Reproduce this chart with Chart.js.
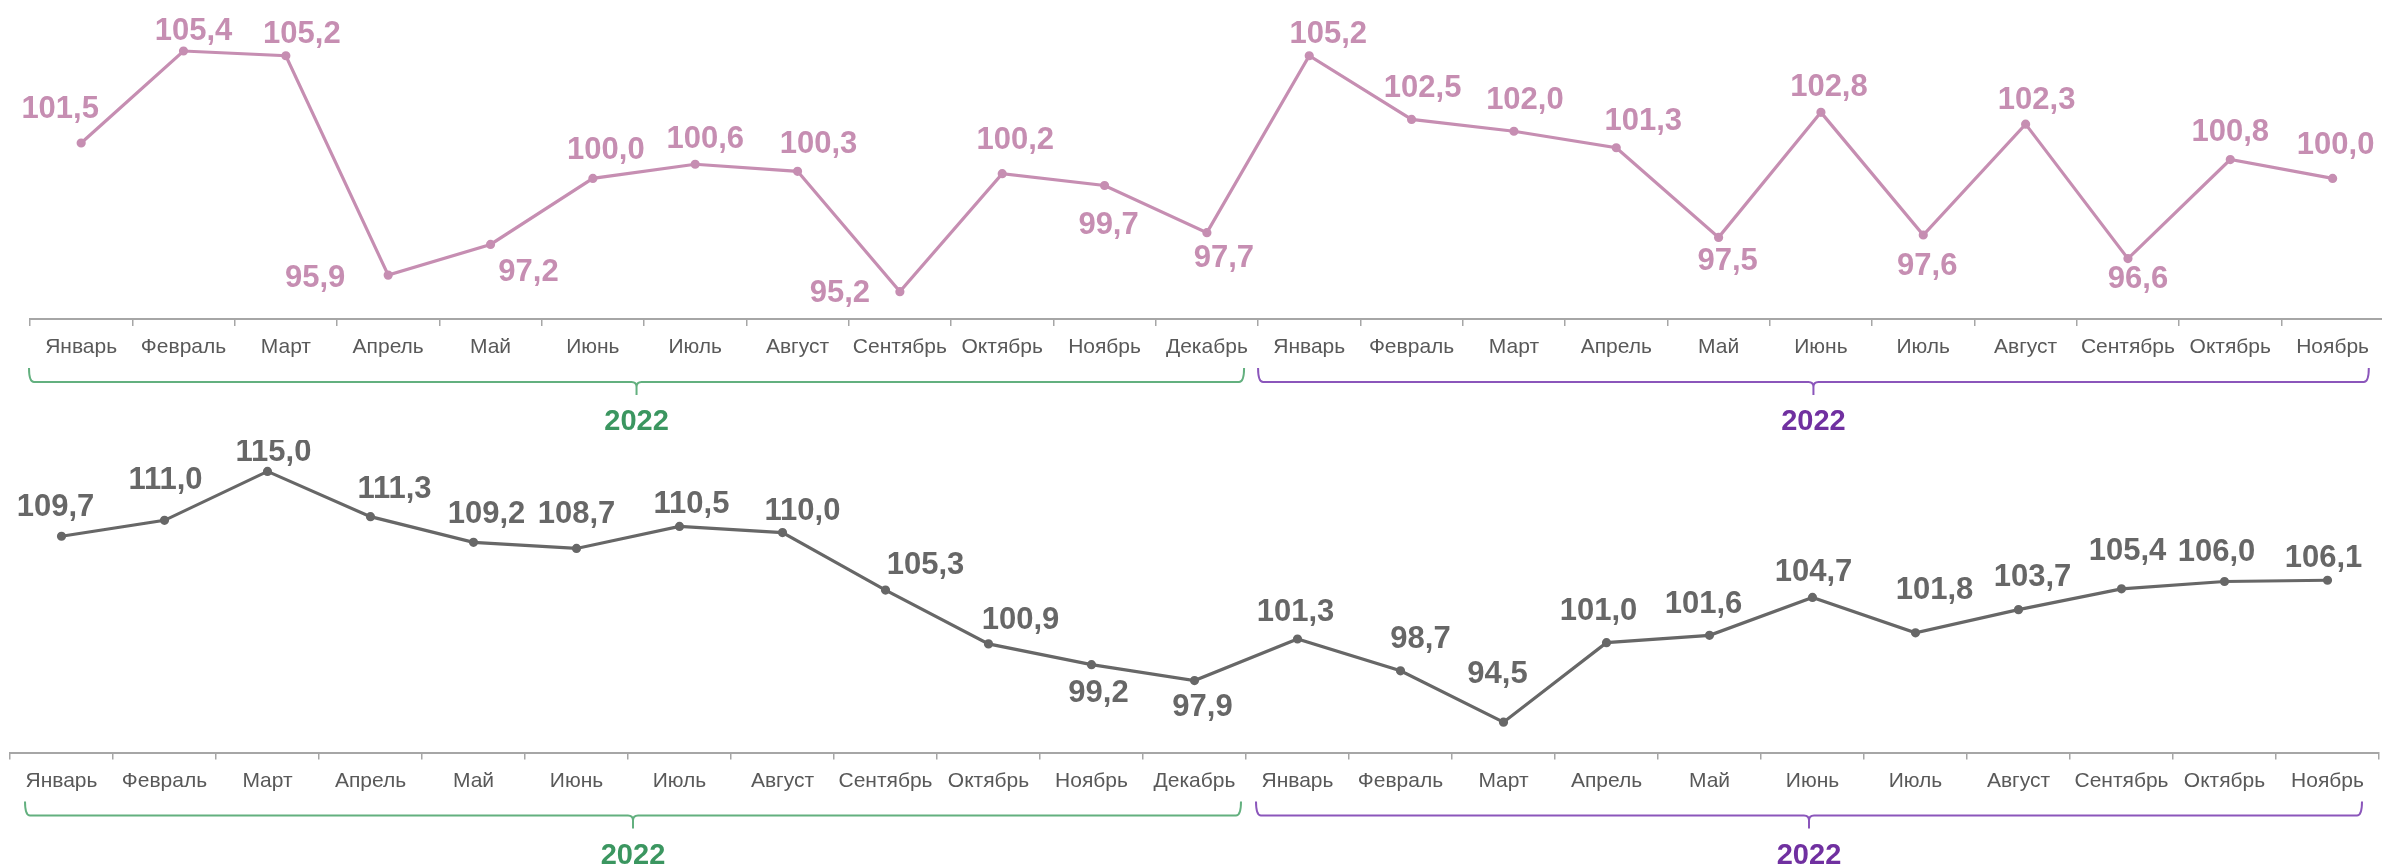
<!DOCTYPE html>
<html lang="ru">
<head>
<meta charset="utf-8">
<title>Индексы</title>
<script src="https://cdn.jsdelivr.net/npm/chart.js@4.4.1/dist/chart.umd.min.js"></script>
<style>
  html, body { margin: 0; padding: 0; background: #fff; overflow: hidden; }
  #wrap { position: relative; width: 2382px; height: 865px; overflow: hidden; }
  #topChart { position: absolute; left: 0; top: 0; }
  #bottomChart { position: absolute; left: 0; top: 440px; }
</style>
</head>
<body>
<div id="wrap">
  <canvas id="topChart" width="2390" height="440" style="width:2390px;height:440px"></canvas>
  <canvas id="bottomChart" width="2390" height="425" style="width:2390px;height:425px"></canvas>
</div>
<script>
// --- данные ---
const monthLabels = [
  'Январь', 'Февраль', 'Март', 'Апрель', 'Май', 'Июнь', 'Июль', 'Август',
  'Сентябрь', 'Октябрь', 'Ноябрь', 'Декабрь',
  'Январь', 'Февраль', 'Март', 'Апрель', 'Май', 'Июнь', 'Июль', 'Август',
  'Сентябрь', 'Октябрь', 'Ноябрь'
];
const yearLabels = ['2022', '2022'];
const yearSpans = [12, 11];   // сколько месяцев под каждой скобкой

const topValues = [101.5, 105.4, 105.2, 95.9, 97.2, 100.0, 100.6, 100.3, 95.2, 100.2, 99.7, 97.7,
                   105.2, 102.5, 102.0, 101.3, 97.5, 102.8, 97.6, 102.3, 96.6, 100.8, 100.0];
const bottomValues = [109.7, 111.0, 115.0, 111.3, 109.2, 108.7, 110.5, 110.0, 105.3, 100.9, 99.2, 97.9,
                      101.3, 98.7, 94.5, 101.0, 101.6, 104.7, 101.8, 103.7, 105.4, 106.0, 106.1];

// смещения подписей относительно точки (dx, dy)
const topLabelShift = [
  [-21, -34], [10, -20], [16, -21], [-73, 3], [38, 28], [13, -28], [10, -25], [21, -27],
  [-60, 2], [13, -33], [4, 40], [17, 26], [19, -21], [11, -31], [11, -31], [27, -26],
  [9, 24], [8, -25], [4, 31], [11, -24], [10, 21], [0, -27], [3, -33]
];
const bottomLabelShift = [
  [-6, -29], [1, -40], [6, -19], [24, -27], [13, -28], [0, -34], [12, -22], [20, -21],
  [40, -25], [32, -23], [7, 29], [8, 27], [-2, -27], [20, -31], [-6, -48], [-8, -31],
  [-6, -31], [1, -25], [19, -42], [14, -32], [6, -37], [-8, -29], [-4, -22]
];

const FONT = "'Liberation Sans', Arial, sans-serif";
const yearColors = [
  { line: '#63b07f', text: '#3b9660' },
  { line: '#8b56bb', text: '#7030a0' }
];

function fmt(v) {
  return v.toFixed(1).replace('.', ',');
}

// подписи значений
const valueLabels = {
  id: 'valueLabels',
  afterDatasetsDraw(chart, args, opts) {
    const ctx = chart.ctx;
    const meta = chart.getDatasetMeta(0);
    const data = chart.data.datasets[0].data;
    ctx.save();
    ctx.font = 'bold 31px ' + FONT;
    ctx.fillStyle = opts.color;
    ctx.textAlign = 'center';
    ctx.textBaseline = 'middle';
    meta.data.forEach((pt, i) => {
      const s = opts.shift[i];
      ctx.fillText(fmt(data[i]), pt.x + s[0], pt.y + s[1]);
    });
    ctx.restore();
  }
};

// фигурные скобки с годами
const yearBrackets = {
  id: 'yearBrackets',
  afterDraw(chart, args, opts) {
    const ctx = chart.ctx;
    const x = chart.scales.x;
    const n = chart.data.labels.length;
    const w = (x.right - x.left) / n;
    const base = chart.chartArea.bottom;
    const yTop = base + 49, yH = base + 63, yNotch = base + 76, yText = base + 103;
    const r = 5;
    let start = 0;
    ctx.save();
    yearSpans.forEach((span, g) => {
      const xl = x.left + start * w + opts.insets[g][0];
      const xr = x.left + (start + span) * w - opts.insets[g][1];
      const xc = (xl + xr) / 2;
      ctx.strokeStyle = yearColors[g].line;
      ctx.lineWidth = 2;
      ctx.beginPath();
      ctx.moveTo(xl, yTop);
      ctx.quadraticCurveTo(xl, yH, xl + r, yH);
      ctx.lineTo(xc - r, yH);
      ctx.quadraticCurveTo(xc, yH, xc, yH + r);
      ctx.lineTo(xc, yNotch);
      ctx.moveTo(xc, yH + r);
      ctx.quadraticCurveTo(xc, yH, xc + r, yH);
      ctx.lineTo(xr - r, yH);
      ctx.quadraticCurveTo(xr, yH, xr, yTop);
      ctx.stroke();

      ctx.fillStyle = yearColors[g].text;
      ctx.font = 'bold 29px ' + FONT;
      ctx.textAlign = 'center';
      ctx.textBaseline = 'middle';
      ctx.fillText(yearLabels[g], xc, yText);
      start += span;
    });
    ctx.restore();
  }
};

function makeChart(id, values, color, yMin, yMax, axisHeight, padLeft, padRight, shift, insets) {
  return new Chart(document.getElementById(id), {
    type: 'line',
    data: {
      labels: monthLabels,
      datasets: [{
        data: values,
        borderColor: color,
        backgroundColor: color,
        borderWidth: 3.2,
        pointRadius: 3,
        pointHoverRadius: 3,
        tension: 0,
        clip: false
      }]
    },
    options: {
      responsive: false,
      animation: false,
      events: [],
      layout: { padding: { left: padLeft, right: padRight, top: 0, bottom: 0 } },
      plugins: {
        legend: { display: false },
        tooltip: { enabled: false },
        valueLabels: { color: color, shift: shift },
        yearBrackets: { insets: insets }
      },
      scales: {
        x: {
          offset: true,
          grid: {
            offset: true,
            drawOnChartArea: false,
            drawTicks: true,
            tickLength: 7,
            color: '#a6a6a6',
            lineWidth: 1.5
          },
          border: { display: true, color: '#a6a6a6', width: 2 },
          ticks: {
            autoSkip: false,
            maxRotation: 0,
            minRotation: 0,
            padding: 9,
            color: '#595959',
            font: { family: FONT, size: 21 }
          },
          afterFit(s) { s.height = axisHeight; }
        },
        y: { display: false, min: yMin, max: yMax }
      }
    },
    plugins: [valueLabels, yearBrackets]
  });
}

window.addEventListener('DOMContentLoaded', () => {
  makeChart('topChart', topValues, '#c68eb2', 94.04, 107.3, 121, 30, 6,
            topLabelShift, [[-1, 14], [0, 15]]);
  makeChart('bottomChart', bottomValues, '#676767', 92.02, 117.06, 112.5, 10, 11,
            bottomLabelShift, [[15, 5], [10, 17]]);
});
</script>
</body>
</html>
